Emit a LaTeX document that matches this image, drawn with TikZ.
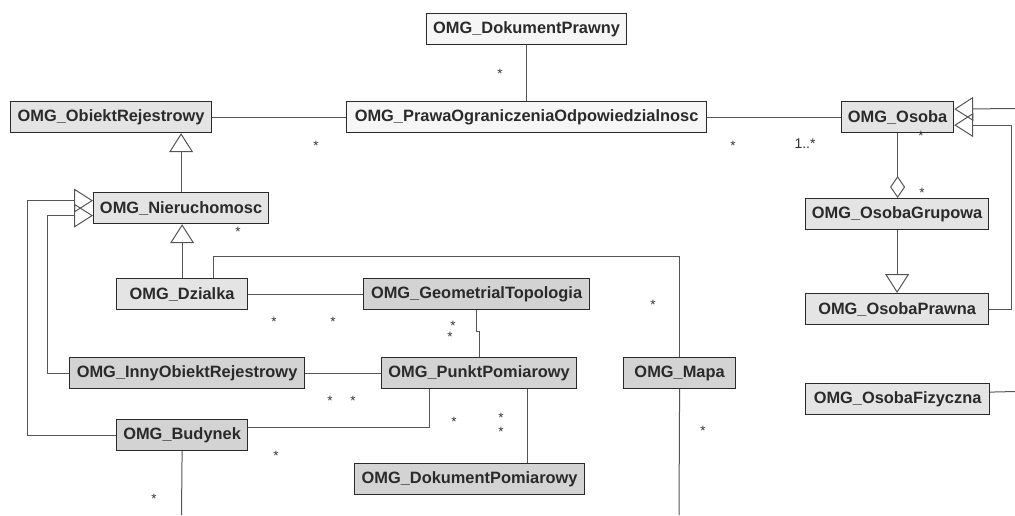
\documentclass[tikz,border=0pt]{standalone}
\usepackage{fontspec}
\setmainfont{Liberation Sans}
\usetikzlibrary{arrows.meta}
\definecolor{fillA}{HTML}{F6F6F6}
\definecolor{fillB}{HTML}{E4E4E4}
\definecolor{fillC}{HTML}{D3D3D3}
\definecolor{edge}{HTML}{2A2A2A}
\definecolor{conncol}{HTML}{555555}
\definecolor{labcol}{HTML}{333333}
\begin{document}
\begin{tikzpicture}[x=1pt,y=-1pt,
  box/.style={draw=edge, line width=1.2pt, text=edge, inner sep=0pt, anchor=north west,
    minimum height=31pt, font=\bfseries\fontsize{16.4}{18}\selectfont},
  conn/.style={draw=conncol, line width=1pt},
  gen/.style={-{Triangle[open,length=19pt,width=24pt]}},
  agg/.style={-{Diamond[open,length=22pt,width=15pt]}},
  mult/.style={font=\fontsize{13.5}{15}\selectfont, text=labcol, inner sep=0pt, anchor=base, yshift=-8pt},
  multtxt/.style={font=\fontsize{14}{16}\selectfont, text=labcol, inner sep=0pt, anchor=base}]
\useasboundingbox (0,0) rectangle (1015,515);

% boxes
\node[box, fill=fillA, minimum width=200pt] (dp) at (426,13) {OMG\_DokumentPrawny};
\node[box, fill=fillB, minimum width=201pt] (obr) at (10,101) {OMG\_ObiektRejestrowy};
\node[box, fill=fillA, minimum width=360pt] (pr) at (346,101) {OMG\_PrawaOgraniczeniaOdpowiedzialnosc};
\node[box, fill=fillB, minimum width=112pt] (os) at (841,101) {OMG\_Osoba};
\node[box, fill=fillB, minimum width=175pt] (nie) at (93,192) {OMG\_Nieruchomosc};
\node[box, fill=fillB, minimum width=183pt] (og) at (805,198) {OMG\_OsobaGrupowa};
\node[box, fill=fillB, minimum width=183pt] (op) at (805,293) {OMG\_OsobaPrawna};
\node[box, fill=fillB, minimum width=131pt] (dz) at (116,278) {OMG\_Dzialka};
\node[box, fill=fillC, minimum width=226pt] (geo) at (363,278) {OMG\_GeometrialTopologia};
\node[box, fill=fillC, minimum width=235pt] (inny) at (69,357) {OMG\_InnyObiektRejestrowy};
\node[box, fill=fillC, minimum width=195pt] (pp) at (381,357) {OMG\_PunktPomiarowy};
\node[box, fill=fillC, minimum width=112pt] (mapa) at (623,357) {OMG\_Mapa};
\node[box, fill=fillC, minimum width=131pt] (bud) at (116,419) {OMG\_Budynek};
\node[box, fill=fillC, minimum width=230pt] (dpm) at (354,463) {OMG\_DokumentPomiarowy};
\node[box, fill=fillB, minimum width=184pt] (of) at (805,383) {OMG\_OsobaFizyczna};

% free ends
\coordinate (mapaEnd) at (679,515);
\coordinate (budEnd) at (181.5,515);
\coordinate (osEnd) at (1015,108.5);
\coordinate (ofEnd) at (1015,391.5);

% connectors
\draw[conn] (dp.south) -- (pr.north);
\draw[conn] (obr.east) -- (pr.west);
\draw[conn] (pr.east) -- (os.west);
\draw[conn, gen] (nie.north) -- (nie.north |- obr.south);
\draw[conn, gen] (dz.north) -- (dz.north |- nie.south);
\draw[conn, gen] (bud.west) -| ([xshift=-66pt,yshift=7.5pt]nie.west) -- ([yshift=7.5pt]nie.west);
\draw[conn, gen] (inny.west) -| ([xshift=-46pt,yshift=-7.5pt]nie.west) -- ([yshift=-7.5pt]nie.west);
\draw[conn] ([xshift=31.5pt]dz.north) -- ++(0,-22) -| (mapa.north);
\draw[conn] (dz.east) -- (geo.west);
\draw[conn] (geo.south) -- ++(0,21) -| (pp.north);
\draw[conn] (inny.east) -- (pp.west);
\draw[conn] ([yshift=7.5pt]bud.east) -| ([xshift=-49.5pt]pp.south);
\draw[conn] ([xshift=48pt]pp.south) -- ([xshift=48pt]pp.south |- dpm.north);
\draw[conn] (mapa.south) -- (mapaEnd);
\draw[conn] (bud.south) -- (budEnd);
\draw[conn, agg] (os.south) -- (os.south |- og.north);
\draw[conn, gen] (og.south) -- (og.south |- op.north);
\draw[conn, gen] (osEnd) -- ([yshift=8pt]os.east);
\draw[conn, gen] (op.east) -| ([xshift=57pt,yshift=-8pt]os.east) -- ([yshift=-8pt]os.east);
\draw[conn] ([yshift=7pt]of.east) -- (ofEnd);

% multiplicities
\node[mult] (m1) at (500,70) {*};
\node[mult] (m2) at (316,142) {*};
\node[mult] (m3) at (733,142) {*};
\node[multtxt] (m4) at (805,148) {1..*};
\node[mult] (m5) at (921,132) {*};
\node[mult] (m6) at (922,189) {*};
\node[mult] (m7) at (238,228) {*};
\node[mult] (m8) at (274,318) {*};
\node[mult] (m9) at (333,318) {*};
\node[mult] (m10) at (453,322) {*};
\node[mult] (m11) at (450,333) {*};
\node[mult] (m12) at (653,301) {*};
\node[mult] (m13) at (330,397) {*};
\node[mult] (m14) at (353,397) {*};
\node[mult] (m15) at (454,418) {*};
\node[mult] (m16) at (501,414) {*};
\node[mult] (m17) at (501,428) {*};
\node[mult] (m18) at (703,427) {*};
\node[mult] (m19) at (276,452) {*};
\node[mult] (m20) at (154,495) {*};
\end{tikzpicture}
\end{document}
